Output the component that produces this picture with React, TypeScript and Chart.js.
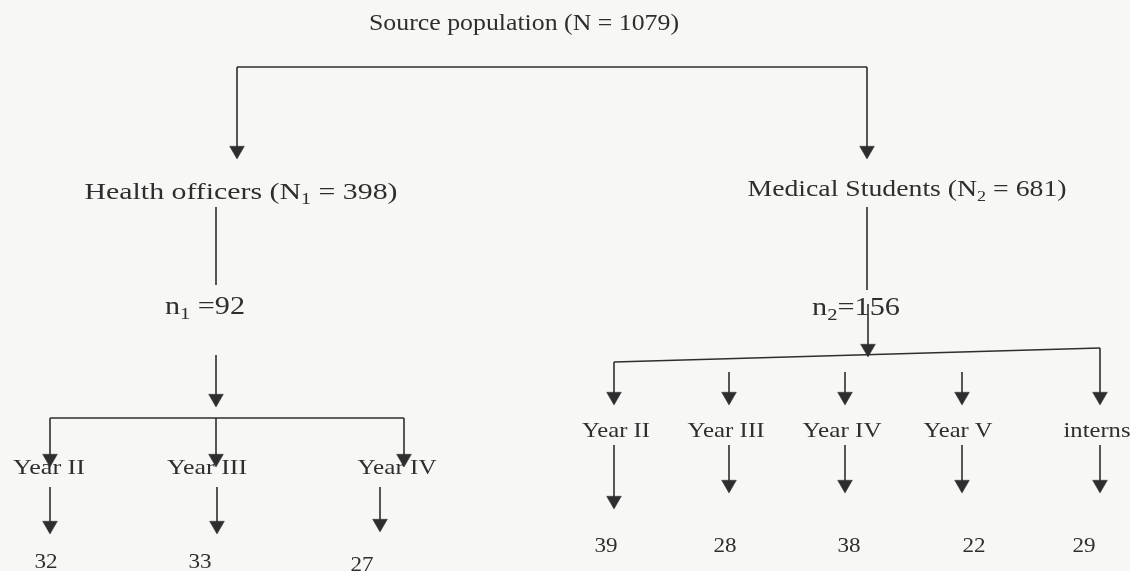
import React, { useEffect, useRef } from "react";
import { Chart, registerables } from "chart.js";

Chart.register(...registerables);

// ---------- DATA ----------
const SOURCE_LABEL = "Source population";
const SOURCE_N = 1079;
const GROUP_NAMES = ["Health officers", "Medical Students"];
const GROUP_N = [398, 681];
const SAMPLE_N = [92, 156];
const HO_YEARS = ["Year II", "Year III", "Year IV"];
const HO_COUNTS = [32, 33, 27];
const MS_YEARS = ["Year II", "Year III", "Year IV", "Year V", "interns"];
const MS_COUNTS = [39, 28, 38, 22, 29];

// ---------- LAYOUT (diagram coordinates, 1 unit = 1 px) ----------
const W = 1130;
const H = 571;
const INK = "#2e2e2e";
const BG = "#f7f7f5";
const FONT = '"Liberation Serif", "Times New Roman", Times, serif';
const ARROW_R = 8.5;
const LINE_W = 1.6;
const NUM_STRETCH = 1.05;

const TITLE_POS = { x: 524, y: 30, s: 23, w: 310 };
const TOP_LINE_Y = 67;
const GROUP_COL_X = [237, 867];
const GROUP_TIP_Y = 159;
const GROUP_LABEL_POS = [
  { x: 241, y: 199, s: 24, w: 313 },
  { x: 907, y: 196, s: 23, w: 319 },
];
const STEM = [
  { x: 216, y0: 207, y1: 285 },
  { x: 867, y0: 207, y1: 290 },
];
const SAMPLE_SEP = [" =", "="];
const SAMPLE_POS = [
  { x: 205, y: 314, s: 25, w: 80 },
  { x: 856, y: 315, s: 25, w: 88 },
];
const SAMPLE_ARROW = [
  { x: 216, y0: 355, tip: 407 },
  { x: 868, y0: 304, tip: 357 },
];

// Health officers branch
const HO_BAR_Y = 418;
const HO_COL_X = [50, 216, 404];
const HO_TIP_Y = 467;
const HO_LABEL_X = [49, 207, 397];
const HO_LABEL_W = [72, 80, 79];
const HO_LABEL_Y = 474;
const HO_LOW_X = [50, 217, 380];
const HO_LOW_Y0 = 487;
const HO_LOW_TIP = [534, 534, 532];
const HO_NUM_X = [46, 200, 362];
const HO_NUM_Y = [568, 568, 571];

// Medical students branch
const MS_BAR = { x0: 614, y0: 362, x1: 1100, y1: 348 };
const MS_COL_X = [614, 729, 845, 962, 1100];
const MS_COL_Y0 = [362, 372, 372, 372, 348];
const MS_TIP_Y = 405;
const MS_LABEL_X = [616, 726, 842, 958, 1097];
const MS_LABEL_W = [68, 77, 79, 69, 67];
const MS_LABEL_Y = 437;
const MS_LOW_Y0 = 445;
const MS_LOW_TIP = [509, 493, 493, 493, 493];
const MS_NUM_X = [606, 725, 849, 974, 1084];
const MS_NUM_Y = 552;

type Part = { t: string; sub?: boolean };
type TextItem = { parts: Part[]; x: number; y: number; s: number; w?: number };

function buildSegments() {
  const segs: [number, number, number, number][] = [];
  const arrows: { x: number; y: number }[] = [];
  const arrow = (x: number, y0: number, tip: number) => {
    segs.push([x, y0, x, tip - 3]);
    arrows.push({ x, y: tip - ARROW_R });
  };
  segs.push([GROUP_COL_X[0], TOP_LINE_Y, GROUP_COL_X[1], TOP_LINE_Y]);
  GROUP_COL_X.forEach((x) => arrow(x, TOP_LINE_Y, GROUP_TIP_Y));
  STEM.forEach((s) => segs.push([s.x, s.y0, s.x, s.y1]));
  SAMPLE_ARROW.forEach((a) => arrow(a.x, a.y0, a.tip));
  segs.push([HO_COL_X[0], HO_BAR_Y, HO_COL_X[HO_COL_X.length - 1], HO_BAR_Y]);
  HO_COL_X.forEach((x) => arrow(x, HO_BAR_Y, HO_TIP_Y));
  HO_LOW_X.forEach((x, i) => arrow(x, HO_LOW_Y0, HO_LOW_TIP[i]));
  segs.push([MS_BAR.x0, MS_BAR.y0, MS_BAR.x1, MS_BAR.y1]);
  MS_COL_X.forEach((x, i) => arrow(x, MS_COL_Y0[i], MS_TIP_Y));
  MS_COL_X.forEach((x, i) => arrow(x, MS_LOW_Y0, MS_LOW_TIP[i]));
  return { segs, arrows };
}

function buildTexts(): TextItem[] {
  const items: TextItem[] = [];
  items.push({ parts: [{ t: `${SOURCE_LABEL} (N = ${SOURCE_N})` }], ...TITLE_POS });
  GROUP_NAMES.forEach((g, i) => {
    items.push({
      parts: [{ t: `${g} (N` }, { t: String(i + 1), sub: true }, { t: ` = ${GROUP_N[i]})` }],
      ...GROUP_LABEL_POS[i],
    });
    items.push({
      parts: [{ t: "n" }, { t: String(i + 1), sub: true }, { t: `${SAMPLE_SEP[i]}${SAMPLE_N[i]}` }],
      ...SAMPLE_POS[i],
    });
  });
  HO_YEARS.forEach((y, i) =>
    items.push({ parts: [{ t: y }], x: HO_LABEL_X[i], y: HO_LABEL_Y, s: 22, w: HO_LABEL_W[i] })
  );
  HO_COUNTS.forEach((c, i) =>
    items.push({ parts: [{ t: String(c) }], x: HO_NUM_X[i], y: HO_NUM_Y[i], s: 22 })
  );
  MS_YEARS.forEach((y, i) =>
    items.push({ parts: [{ t: y }], x: MS_LABEL_X[i], y: MS_LABEL_Y, s: 22, w: MS_LABEL_W[i] })
  );
  MS_COUNTS.forEach((c, i) =>
    items.push({ parts: [{ t: String(c) }], x: MS_NUM_X[i], y: MS_NUM_Y, s: 22 })
  );
  return items;
}

const bgPlugin = {
  id: "bg",
  beforeDraw(chart: any) {
    const { ctx, width, height } = chart;
    ctx.save();
    ctx.fillStyle = BG;
    ctx.fillRect(0, 0, width, height);
    ctx.restore();
  },
};

const textPlugin = {
  id: "flowText",
  afterDatasetsDraw(chart: any) {
    const { ctx, scales } = chart;
    const items = buildTexts();
    ctx.save();
    ctx.fillStyle = INK;
    ctx.textBaseline = "alphabetic";
    ctx.textAlign = "left";
    for (const it of items) {
      const cx = scales.x.getPixelForValue(it.x);
      const by = scales.y.getPixelForValue(it.y);
      const widths = it.parts.map((p) => {
        ctx.font = `${p.sub ? Math.round(it.s * 0.66) : it.s}px ${FONT}`;
        return ctx.measureText(p.t).width;
      });
      const total = widths.reduce((a, b) => a + b, 0);
      const sx = it.w ? it.w / total : NUM_STRETCH;
      ctx.save();
      ctx.translate(cx, by);
      ctx.scale(sx, 1);
      let x = -total / 2;
      it.parts.forEach((p, k) => {
        ctx.font = `${p.sub ? Math.round(it.s * 0.66) : it.s}px ${FONT}`;
        ctx.fillText(p.t, x, p.sub ? it.s * 0.2 : 0);
        x += widths[k];
      });
      ctx.restore();
    }
    ctx.restore();
  },
};

export default function App() {
  const ref = useRef<HTMLCanvasElement | null>(null);
  useEffect(() => {
    if (!ref.current) return;
    let chart: Chart | null = null;
    let cancelled = false;
    const make = () => {
      if (cancelled || !ref.current) return;
      const { segs, arrows } = buildSegments();
      const datasets: any[] = segs.map((s) => ({
        type: "scatter",
        data: [
          { x: s[0], y: s[1] },
          { x: s[2], y: s[3] },
        ],
        showLine: true,
        borderColor: INK,
        borderWidth: LINE_W,
        pointRadius: 0,
        fill: false,
      }));
      datasets.push({
        type: "scatter",
        data: arrows,
        showLine: false,
        pointStyle: "triangle",
        pointRotation: 180,
        pointRadius: ARROW_R,
        pointBackgroundColor: INK,
        pointBorderColor: INK,
        pointBorderWidth: 0.5,
      });
      chart = new Chart(ref.current, {
        type: "scatter",
        data: { datasets },
        options: {
          animation: false,
          responsive: false,
          maintainAspectRatio: false,
          events: [],
          layout: { padding: 0, autoPadding: false },
          plugins: { legend: { display: false }, tooltip: { enabled: false } },
          scales: {
            x: { type: "linear", min: 0, max: W, display: false },
            y: { type: "linear", min: 0, max: H, reverse: true, display: false },
          },
        },
        plugins: [bgPlugin, textPlugin],
      });
    };
    const fonts = (document as any).fonts;
    if (fonts && fonts.load) {
      Promise.all([
        fonts.load(`22px "Liberation Serif"`),
        fonts.load(`15px "Liberation Serif"`),
      ])
        .catch(() => null)
        .then(make);
    } else {
      make();
    }
    return () => {
      cancelled = true;
      if (chart) chart.destroy();
    };
  }, []);
  return (
    <div style={{ position: "absolute", left: 0, top: 0, width: W, height: H }}>
      <canvas ref={ref} width={W} height={H} style={{ width: W, height: H, display: "block" }} />
    </div>
  );
}
